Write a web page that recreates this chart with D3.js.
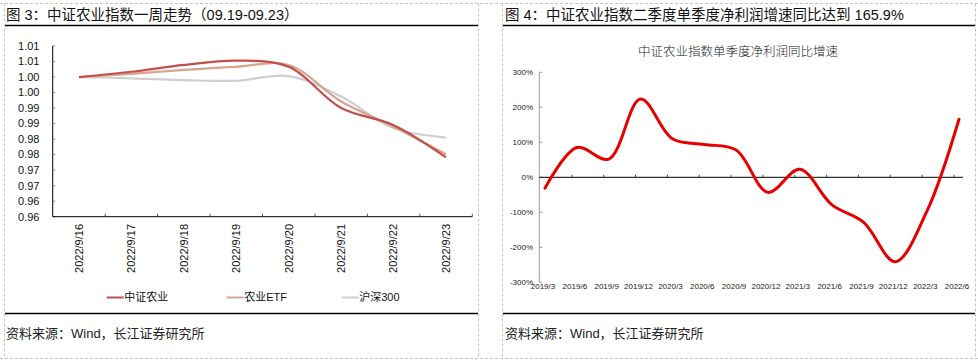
<!DOCTYPE html>
<html><head><meta charset="utf-8">
<script src="https://cdn.jsdelivr.net/npm/d3@7"></script>
<style>
body{margin:0;background:#fff;}
svg{display:block;font-family:"Liberation Sans",Arial,"Noto Sans CJK SC",sans-serif;}
</style></head>
<body><svg id="c" width="978" height="364"></svg>
<script>
// ---------- data: figure 3 ----------
const dates = ["2022/9/16","2022/9/17","2022/9/18","2022/9/19","2022/9/20","2022/9/21","2022/9/22","2022/9/23"];
const seriesNames = ["中证农业","农业ETF","沪深300"];
const zzny  = [1.000, 1.0017, 1.0039, 1.0053, 1.0033, 0.9900, 0.9845, 0.9741];
const etf   = [1.000, 1.0010, 1.0023, 1.0033, 1.0039, 0.9921, 0.9840, 0.9751];
const hs300 = [1.000, 0.9996, 0.9990, 0.9988, 1.0003, 0.9937, 0.9835, 0.9805];
const leftTicks = [1.01,1.005,1.00,0.995,0.99,0.985,0.98,0.975,0.97,0.965,0.96,0.955];
const leftTickLabels = ["1.01","1.01","1.00","1.00","0.99","0.99","0.98","0.98","0.97","0.97","0.96","0.96"];

// ---------- data: figure 4 ----------
const quarters = ["2019/3","2019/6","2019/9","2019/12","2020/3","2020/6","2020/9","2020/12","2021/3","2021/6","2021/9","2021/12","2022/3","2022/6"];
const growth = [-31, 85, 52, 224, 110, 94, 78, -43, 23, -78, -128, -241, -95, 165.9];
const rightTicks = [300,200,100,0,-100,-200,-300];
const rightTickLabels = ["300%","200%","100%","0%","-100%","-200%","-300%"];

const svg = d3.select("#c");
const CJK = "'Liberation Sans',Arial,'Noto Sans CJK SC',sans-serif";

// ---------- frames ----------
const dash = "3,2";
const frame = svg.append("g").attr("stroke","#c4c4c4").attr("stroke-dasharray",dash).attr("fill","none");
frame.append("line").attr("x1",0).attr("x2",978).attr("y1",3.5).attr("y2",3.5);
frame.append("line").attr("x1",0).attr("x2",978).attr("y1",358.5).attr("y2",358.5);
[4.5,478.5,502.5,975.5].forEach(x=>frame.append("line").attr("x1",x).attr("x2",x).attr("y1",3.5).attr("y2",358.5));

// titles
svg.append("text").attr("x",6).attr("y",19.5).attr("font-size",14.5).attr("fill","#111")
  .text("图 3：中证农业指数一周走势（09.19-09.23）");
svg.append("text").attr("x",505).attr("y",20).attr("font-size",14.5).attr("fill","#111")
  .text("图 4：中证农业指数二季度单季度净利润增速同比达到 165.9%");
[[5,478],[503,975]].forEach(([a,b])=>{
  svg.append("line").attr("x1",a).attr("x2",b).attr("y1",25.5).attr("y2",25.5).attr("stroke","#000").attr("stroke-width",1.5);
  svg.append("line").attr("x1",a).attr("x2",b).attr("y1",313.5).attr("y2",313.5).attr("stroke","#000").attr("stroke-width",1.5);
});
svg.append("text").attr("x",6).attr("y",338).attr("font-size",13).attr("fill","#222").text("资料来源：Wind，长江证券研究所");
svg.append("text").attr("x",505).attr("y",338).attr("font-size",13).attr("fill","#222").text("资料来源：Wind，长江证券研究所");

// ---------- left chart ----------
const L = {x0:52.7, x1:472.3, yTop:46, yBot:216.7};
const xL = d3.scaleBand().domain(dates).range([L.x0, L.x1]);
const yL = d3.scaleLinear().domain([0.955, 1.01]).range([L.yBot, L.yTop]);
const gL = svg.append("g");

// y axis
gL.append("line").attr("x1",L.x0).attr("x2",L.x0).attr("y1",L.yTop).attr("y2",L.yBot).attr("stroke","#000");
leftTicks.forEach((t,i)=>{
  gL.append("line").attr("x1",L.x0).attr("x2",L.x0+2.5).attr("y1",yL(t)).attr("y2",yL(t)).attr("stroke","#888");
  gL.append("text").attr("x",39.5).attr("y",yL(t)).attr("dy","0.35em").attr("text-anchor","end")
    .attr("font-size",11).attr("fill","#111").text(leftTickLabels[i]);
});
// x axis
gL.append("line").attr("x1",L.x0).attr("x2",L.x1).attr("y1",L.yBot).attr("y2",L.yBot).attr("stroke","#000");
dates.forEach(d=>{
  const xb = xL(d)+xL.bandwidth();
  gL.append("line").attr("x1",xb).attr("x2",xb).attr("y1",L.yBot).attr("y2",L.yBot-3).attr("stroke","#555");
  const xc = xL(d)+xL.bandwidth()/2;
  gL.append("text").attr("transform",`translate(${xc},224) rotate(-90)`).attr("text-anchor","end")
    .attr("dy","0.35em").attr("font-size",11).attr("fill","#111").text(d);
});
const colorsL = ["#c0504d","#d8a48f","#cfcfcf"];
const seriesL = [zzny, etf, hs300];
const lineL = d3.line().x((v,i)=>xL(dates[i])+xL.bandwidth()/2).y(v=>yL(v)).curve(d3.curveCatmullRom.alpha(0.5));
[2,1,0].forEach(k=>{
  gL.append("path").attr("d",lineL(seriesL[k])).attr("fill","none").attr("stroke",colorsL[k]).attr("stroke-width",2.2);
});
// legend
const legX = [106.7, 226.7, 341.7];
seriesNames.forEach((n,k)=>{
  gL.append("line").attr("x1",legX[k]).attr("x2",legX[k]+17).attr("y1",297.5).attr("y2",297.5).attr("stroke",colorsL[k]).attr("stroke-width",2);
  gL.append("text").attr("x",legX[k]+17.5).attr("y",297.5).attr("dy","0.36em").attr("font-size",11).attr("fill","#111").text(n);
});

// ---------- right chart ----------
const R = {x0:539.3, x1:963, yTop:72.3, yBot:282.3};
const xR = d3.scalePoint().domain(quarters).range([545, 959]);
const yR = d3.scaleLinear().domain([-300, 300]).range([R.yBot, R.yTop]);
const gR = svg.append("g");
gR.append("text").attr("x",738).attr("y",52).attr("dy","0.35em").attr("text-anchor","middle")
  .attr("font-size",12.5).attr("fill","#222").attr("font-family","'Noto Sans CJK SC',sans-serif").attr("font-weight",300)
  .text("中证农业指数单季度净利润同比增速");
gR.append("line").attr("x1",R.x0).attr("x2",R.x0).attr("y1",R.yTop).attr("y2",R.yBot).attr("stroke","#999");
rightTicks.forEach((t,i)=>{
  gR.append("line").attr("x1",R.x0).attr("x2",R.x0+3).attr("y1",yR(t)).attr("y2",yR(t)).attr("stroke","#999");
  gR.append("text").attr("x",533).attr("y",yR(t)).attr("dy","0.35em").attr("text-anchor","end")
    .attr("font-size",8).attr("fill","#222").text(rightTickLabels[i]);
});
gR.append("line").attr("x1",R.x0).attr("x2",R.x1).attr("y1",yR(0)).attr("y2",yR(0)).attr("stroke","#000").attr("stroke-width",1);
quarters.forEach((q,i)=>{
  if(i>0){
    const xt = xR(q)-5;
    gR.append("line").attr("x1",xt).attr("x2",xt).attr("y1",yR(0)).attr("y2",yR(0)-2.5).attr("stroke","#444");
  }
  gR.append("text").attr("x",xR(q)-2).attr("y",289).attr("text-anchor","middle")
    .attr("font-size",8).attr("fill","#222").text(q);
});
const lineR = d3.line().x((v,i)=>xR(quarters[i])).y(v=>yR(v)).curve(d3.curveCatmullRom.alpha(0.5));
gR.append("path").attr("d",lineR(growth)).attr("fill","none").attr("stroke","#e60000").attr("stroke-width",3).attr("stroke-linecap","round");
</script></body></html>
